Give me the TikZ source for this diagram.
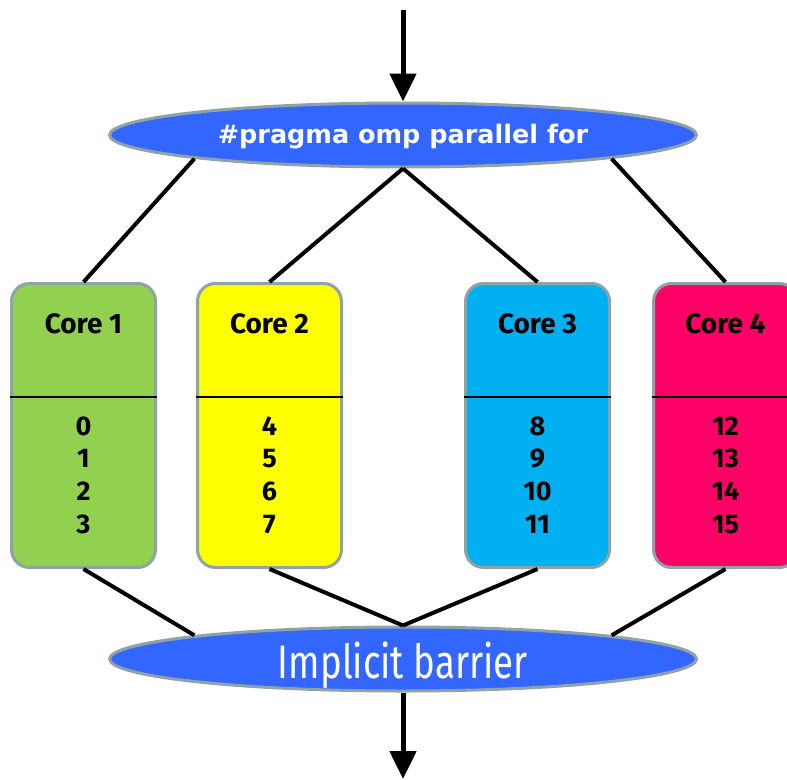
\documentclass[tikz,border=0pt]{standalone}
\usepackage{fontspec}
\setmainfont{Fira Sans}
\newfontfamily\pragmafont{DejaVu Sans}
\newfontfamily\barrierfont{Fira Sans}[FakeStretch=0.78]
\usetikzlibrary{shapes.geometric,arrows.meta}
\definecolor{ompblue}{HTML}{3366FF}
\definecolor{rim}{HTML}{8FA2A6}
\definecolor{cgreen}{HTML}{92D050}
\definecolor{cyellow}{HTML}{FFFF00}
\definecolor{ccyan}{HTML}{00B0F0}
\definecolor{cpink}{HTML}{FF0066}
\tikzset{
  stage/.style={ellipse, draw=rim, line width=3pt, fill=ompblue,
    minimum width=587pt, minimum height=64pt, inner sep=0pt},
  stagetext/.style={text=white, anchor=base, inner sep=0pt},
  corebox/.style={rectangle, rounded corners=18pt, draw=rim, line width=3pt,
    minimum width=144pt, minimum height=284pt, inner sep=0pt},
  coretitle/.style={font=\fontsize{28}{28}\selectfont\bfseries, anchor=base, inner sep=0pt},
  iter/.style={font=\fontsize{27}{27}\selectfont\bfseries, anchor=base, inner sep=0pt},
  divider/.style={line width=2pt},
  link/.style={line width=4pt},
  flow/.style={line width=5pt, -{Triangle[length=28pt,width=26pt]}}
}
\begin{document}
\begin{tikzpicture}[x=1pt,y=-1pt]
\useasboundingbox (0,0) rectangle (787,779);
\clip (0,0) rectangle (787,779);

% fork and join
\node[stage] (fork) at (403,135) {};
\node[stagetext, font=\pragmafont\fontsize{25.5}{25.5}\selectfont\bfseries] (forktext) at (403,143) {\#pragma omp parallel for};
\node[stage] (join) at (403,659) {};
\node[stagetext, font=\barrierfont\fontsize{47}{47}\selectfont] (jointext) at (403,678) {Implicit barrier};

\coordinate (in) at (403,10);
\coordinate (out) at (403,779);

% one box per core, with the loop iterations it runs
\foreach \name/\cx/\col/\title/\first in {
  c1/83.5/cgreen/Core 1/0,
  c2/269.5/cyellow/Core 2/4,
  c3/537.5/ccyan/Core 3/8,
  c4/725.5/cpink/Core 4/12} {
  \node[corebox, fill=\col] (\name) at (\cx,425.5) {};
  \draw[divider] (\name.west |- 0,397) -- (\name.east |- 0,397);
  \node[coretitle] (\name t) at (\cx,333) {\title};
  \foreach \k in {0,1,2,3} {
    \pgfmathtruncatemacro{\it}{\first+\k}
    \node[iter] (\name i\k) at (\cx,435+32.7*\k) {\it};
  }
}

% connectors
\draw[flow] (in) -- (fork.north);
\draw[link] (fork.south west) -- (c1.north);
\draw[link] (fork.south) -- (c2.north);
\draw[link] (fork.south) -- (c3.north);
\draw[link] (fork.south east) -- (c4.north);
\draw[link] (c1.south) -- (join.north west);
\draw[link] (c2.south) -- (join.north);
\draw[link] (c3.south) -- (join.north);
\draw[link] (c4.south) -- (join.north east);
\draw[flow] (join.south) -- (out);
\end{tikzpicture}
\end{document}
